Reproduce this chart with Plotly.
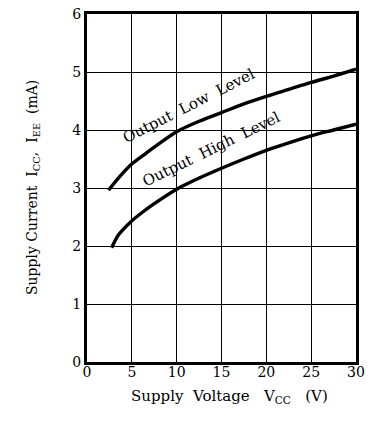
import plotly.graph_objects as go

# Data
low_v = [2.4, 3.5, 4.9, 6.5, 8.0, 10.0, 12.5, 15.0, 17.5, 20.0, 22.5, 25.0, 27.5, 30.0]
low_i = [2.96, 3.17, 3.40, 3.59, 3.76, 3.97, 4.15, 4.30, 4.45, 4.58, 4.70, 4.82, 4.93, 5.05]
high_v = [2.75, 3.5, 4.9, 6.0, 7.5, 10.0, 12.5, 15.0, 17.5, 20.0, 22.5, 25.0, 27.5, 30.0]
high_i = [1.97, 2.19, 2.42, 2.56, 2.73, 2.98, 3.17, 3.34, 3.50, 3.65, 3.78, 3.90, 4.00, 4.10]

x_ticks = [0, 5, 10, 15, 20, 25, 30]
y_ticks = [0, 1, 2, 3, 4, 5, 6]

FONT = "DejaVu Serif"

fig = go.Figure()
for vx, iy in [(low_v, low_i), (high_v, high_i)]:
    fig.add_trace(go.Scatter(x=vx, y=iy, mode="lines",
                             line=dict(color="black", width=3.4, shape="spline", smoothing=0.8),
                             showlegend=False, hoverinfo="skip"))

fig.add_annotation(x=11.3, y=4.42, text="Output  Low  Level", showarrow=False,
                   textangle=-27, font=dict(family=FONT, size=15, color="black"))
fig.add_annotation(x=13.9, y=3.67, text="Output  High  Level", showarrow=False,
                   textangle=-26, font=dict(family=FONT, size=15, color="black"))

# Axis titles placed as annotations in paper space
fig.add_annotation(xref="paper", yref="paper", x=0.53, y=0, yshift=-34, yanchor="middle",
                   text="Supply  Voltage   V<sub>CC</sub>   (V)", showarrow=False,
                   font=dict(family=FONT, size=15, color="black"))
fig.add_annotation(xref="paper", yref="paper", x=0, y=0.5, xshift=-54, xanchor="center",
                   text="Supply Current  I<sub>CC</sub>,  I<sub>EE</sub>  (mA)", showarrow=False,
                   textangle=-90, font=dict(family=FONT, size=14, color="black"))

fig.update_layout(
    width=374, height=429,
    margin=dict(l=87, r=18, t=14, b=67),
    paper_bgcolor="white", plot_bgcolor="white",
    font=dict(family=FONT, size=14, color="black"),
)
fig.update_xaxes(range=[0, 30], tickvals=x_ticks, ticktext=[str(v) for v in x_ticks],
                 showgrid=True, gridcolor="black", gridwidth=1.4,
                 showline=True, linecolor="black", linewidth=3, mirror=True,
                 zeroline=False, ticks="", tickfont=dict(size=14), automargin=False,
                 ticklabelstandoff=-5, ticklabeloverflow="allow")
fig.update_yaxes(range=[0, 6], tickvals=y_ticks, ticktext=[str(v) for v in y_ticks],
                 showgrid=True, gridcolor="black", gridwidth=1.4,
                 showline=True, linecolor="black", linewidth=3, mirror=True,
                 zeroline=False, ticks="", tickfont=dict(size=14), automargin=False,
                 ticklabeloverflow="allow")

# remove the default page margin so the figure sits at the window's top-left corner
fig.write_html("out.html", config={"displayModeBar": False},
               post_script="document.body.style.margin='0';")
